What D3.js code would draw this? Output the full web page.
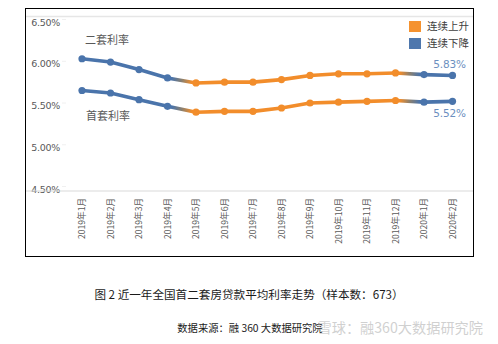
<!DOCTYPE html>
<html><head><meta charset="utf-8">
<script src="https://cdn.jsdelivr.net/npm/d3@7/dist/d3.min.js"></script>
<style>
html,body{margin:0;padding:0;background:#fff;}
svg{display:block;font-family:"Noto Sans CJK SC","Noto Sans",sans-serif;}
</style></head>
<body>
<svg id="c" width="498" height="344"></svg>
<script>
const months = ["2019年1月","2019年2月","2019年3月","2019年4月","2019年5月","2019年6月","2019年7月","2019年8月","2019年9月","2019年10月","2019年11月","2019年12月","2020年1月","2020年2月"];
const secondHome = [6.03, 5.99, 5.90, 5.80, 5.74, 5.75, 5.75, 5.78, 5.83, 5.85, 5.85, 5.86, 5.84, 5.83];
const firstHome  = [5.65, 5.62, 5.54, 5.46, 5.39, 5.40, 5.40, 5.44, 5.50, 5.51, 5.52, 5.53, 5.51, 5.52];
const trend = ["down","down","down","down","up","up","up","up","up","up","up","up","down","down"];
const yTicks = [4.5, 5.0, 5.5, 6.0, 6.5];
const legendItems = [{key:"up", label:"连续上升"}, {key:"down", label:"连续下降"}];
const seriesNames = ["二套利率", "首套利率"];
const caption = "图 2  近一年全国首二套房贷款平均利率走势（样本数：673）";
const source = "数据来源：融 360 大数据研究院";
const watermark = "雪球：融360大数据研究院";

const colors = {up:"#f28d2b", down:"#4a74ab"};
const legendColors = {up:"#f5922f", down:"#4e77ad"};

const svg = d3.select("#c");
// frame
svg.append("rect").attr("x",25.5).attr("y",8.5).attr("width",448).attr("height",248)
  .attr("fill","#fff").attr("stroke","#000").attr("stroke-width",1);
svg.append("line").attr("x1",26).attr("x2",473).attr("y1",16.5).attr("y2",16.5)
  .attr("stroke","#e6e6e6").attr("stroke-width",1.5);

const x = d3.scalePoint().domain(months).range([82, 452.5]);
const y = d3.scaleLinear().domain([4.5, 6.5]).range([186.5, 19.5]);

// y axis labels
const ya = svg.append("g");
ya.selectAll("text").data(yTicks).join("text")
  .attr("x", 60).attr("y", d => y(d) + 2.7).attr("dy","0.35em")
  .attr("text-anchor","end").attr("font-size", 9.5).attr("fill","#595959")
  .attr("font-family","'DejaVu Sans','Noto Sans',sans-serif")
  .attr("letter-spacing","-0.3")
  .text(d => d.toFixed(2) + "%");
ya.selectAll("line").data(yTicks).join("line")
  .attr("x1",62).attr("x2",66).attr("y1",d=>y(d)).attr("y2",d=>y(d))
  .attr("stroke","#f0f0f0");

// x axis line
const axisY = y(4.5) + 4.5;
svg.append("line").attr("x1",26).attr("x2",473).attr("y1",axisY).attr("y2",axisY)
  .attr("stroke","#d9d9d9").attr("stroke-width",1);

// x labels
svg.append("g").selectAll("text").data(months).join("text")
  .attr("transform", d => `translate(${x(d)},${axisY+7}) rotate(-90)`)
  .attr("text-anchor","end").attr("dy","0.35em")
  .attr("font-size", 8.6).attr("fill","#595959")
  .text(d => d);

// gradients + lines
const defs = svg.append("defs");
let gid = 0;
function drawSeries(vals){
  const g = svg.append("g");
  for (let i = 0; i < vals.length - 1; i++){
    const x1 = x(months[i]), y1 = y(vals[i]), x2 = x(months[i+1]), y2 = y(vals[i+1]);
    let stroke;
    if (trend[i] === trend[i+1]) stroke = colors[trend[i]];
    else {
      const id = "g" + (gid++);
      const lg = defs.append("linearGradient").attr("id", id).attr("gradientUnits","userSpaceOnUse")
        .attr("x1",x1).attr("y1",y1).attr("x2",x2).attr("y2",y2);
      lg.append("stop").attr("offset","0.15").attr("stop-color", colors[trend[i]]);
      lg.append("stop").attr("offset","0.5").attr("stop-color", "#8a8070");
      lg.append("stop").attr("offset","0.85").attr("stop-color", colors[trend[i+1]]);
      stroke = `url(#${id})`;
    }
    g.append("line").attr("x1",x1).attr("y1",y1).attr("x2",x2).attr("y2",y2)
      .attr("stroke", stroke).attr("stroke-width", 3.6).attr("stroke-linecap","round");
  }
  g.selectAll("circle").data(vals).join("circle")
    .attr("cx", (d,i) => x(months[i])).attr("cy", d => y(d)).attr("r", 3.6)
    .attr("fill", (d,i) => colors[trend[i]]);
}
drawSeries(secondHome);
drawSeries(firstHome);

// series name annotations
svg.append("text").attr("x",85).attr("y",40).attr("dy","0.35em")
  .attr("font-size",11).attr("fill","#595959").text(seriesNames[0]);
svg.append("text").attr("x",86).attr("y",116).attr("dy","0.35em")
  .attr("font-size",11).attr("fill","#595959").text(seriesNames[1]);

// end value labels
const last = months.length - 1;
svg.append("text").attr("x", x(months[last]) - 3).attr("y", y(secondHome[last]) - 11).attr("dy","0.35em")
  .attr("text-anchor","middle").attr("font-size",10.5).attr("fill","#6b8fc0")
  .attr("font-family","'DejaVu Sans','Noto Sans',sans-serif").attr("letter-spacing","-0.2")
  .text(secondHome[last].toFixed(2) + "%");
svg.append("text").attr("x", x(months[last]) - 3).attr("y", y(firstHome[last]) + 12).attr("dy","0.35em")
  .attr("text-anchor","middle").attr("font-size",10.5).attr("fill","#6b8fc0")
  .attr("font-family","'DejaVu Sans','Noto Sans',sans-serif").attr("letter-spacing","-0.2")
  .text(firstHome[last].toFixed(2) + "%");

// legend
const lg = svg.append("g").attr("transform","translate(409,21)");
legendItems.forEach((it, i) => {
  lg.append("rect").attr("x",0).attr("y", i*17).attr("width",12).attr("height",11)
    .attr("fill", legendColors[it.key]);
  lg.append("text").attr("x",18).attr("y", i*17 + 5.5).attr("dy","0.35em")
    .attr("font-size",10.5).attr("fill","#404040").text(it.label);
});

// captions
svg.append("text").attr("x",249).attr("y",295).attr("dy","0.35em").attr("text-anchor","middle")
  .attr("font-size",11.6).attr("fill","#1a1a1a").text(caption);
svg.append("text").attr("x",250).attr("y",328).attr("dy","0.35em").attr("text-anchor","middle")
  .attr("font-size",10.3).attr("fill","#1a1a1a").text(source);
svg.append("text").attr("x",483).attr("y",328).attr("dy","0.35em").attr("text-anchor","end")
  .attr("font-size",14.2).attr("fill","#c8c8c8").attr("fill-opacity",0.85).text(watermark);
</script>
</body></html>
